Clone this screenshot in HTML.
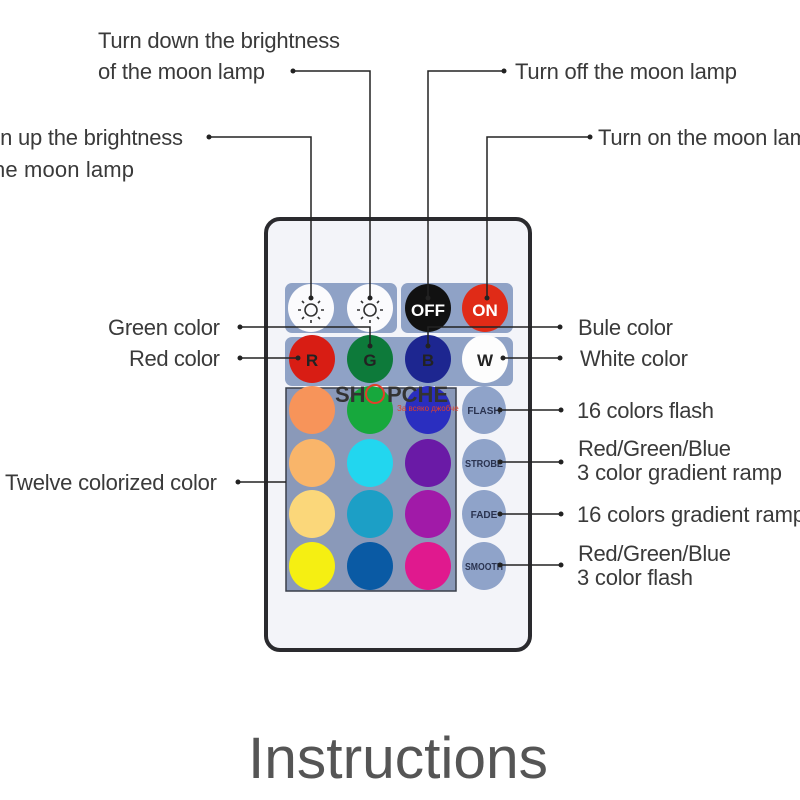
<!DOCTYPE html>
<html><head><meta charset="utf-8"><style>
html,body{margin:0;padding:0;background:#fff}
svg{display:block}
text{font-family:"Liberation Sans",Arial,sans-serif;fill:#3a3a3a}
</style></head><body>
<svg width="800" height="800" viewBox="0 0 800 800" xmlns="http://www.w3.org/2000/svg">
<!-- remote -->
<rect x="266" y="219" width="264" height="431" rx="14" fill="#f3f4f9" stroke="#2a2a2e" stroke-width="4"/>
<rect x="285" y="283" width="112" height="50" rx="7" fill="#8fa2c6"/>
<rect x="401" y="283" width="112" height="50" rx="7" fill="#8fa2c6"/>
<rect x="285" y="337" width="228" height="49" rx="7" fill="#8fa2c6"/>
<rect x="286" y="388" width="170" height="203" fill="#8a99b9" stroke="#3a3f4a" stroke-width="1.5"/>
<g>
<ellipse cx="311" cy="308" rx="23" ry="24" fill="#fbfbfd"/>
<ellipse cx="370" cy="308" rx="23" ry="24" fill="#fbfbfd"/>
<ellipse cx="428" cy="308" rx="23" ry="24" fill="#111"/>
<ellipse cx="485" cy="308" rx="23" ry="24" fill="#e02b17"/>
<ellipse cx="312" cy="359" rx="23" ry="24" fill="#d81d14"/>
<ellipse cx="370" cy="359" rx="23" ry="24" fill="#0d7a3a"/>
<ellipse cx="428" cy="359" rx="23" ry="24" fill="#1d2690"/>
<ellipse cx="485" cy="359" rx="23" ry="24" fill="#fdfdfd"/>
</g>
<g fill="none" stroke="#333" stroke-width="1.6">
<circle cx="311" cy="310" r="6"/><circle cx="370" cy="310" r="6"/>
<path d="M311 300v-3M311 320v3M301 310h-3M321 310h3M304 303l-2-2M318 303l2-2M304 317l-2 2M318 317l2 2"/>
<path d="M370 300v-3M370 320v3M360 310h-3M380 310h3M363 303l-2-2M377 303l2-2M363 317l-2 2M377 317l2 2"/>
</g>
<g font-weight="bold" text-anchor="middle">
<text x="428" y="316" font-size="17" style="fill:#fff">OFF</text>
<text x="485" y="316" font-size="17" style="fill:#fff">ON</text>
<text x="312" y="366" font-size="17" style="fill:#222">R</text>
<text x="370" y="366" font-size="17" style="fill:#222">G</text>
<text x="428" y="366" font-size="17" style="fill:#222">B</text>
<text x="485" y="366" font-size="17" style="fill:#222">W</text>
</g>
<g>
<ellipse cx="312" cy="410" rx="23" ry="24" fill="#f7945a"/>
<ellipse cx="370" cy="410" rx="23" ry="24" fill="#17a83d"/>
<ellipse cx="428" cy="410" rx="23" ry="24" fill="#2a2ec0"/>
<ellipse cx="312" cy="463" rx="23" ry="24" fill="#f9b56a"/>
<ellipse cx="370" cy="463" rx="23" ry="24" fill="#22d6ef"/>
<ellipse cx="428" cy="463" rx="23" ry="24" fill="#6a1aa6"/>
<ellipse cx="312" cy="514" rx="23" ry="24" fill="#fbd77a"/>
<ellipse cx="370" cy="514" rx="23" ry="24" fill="#1c9fc6"/>
<ellipse cx="428" cy="514" rx="23" ry="24" fill="#a11aa8"/>
<ellipse cx="312" cy="566" rx="23" ry="24" fill="#f5ef12"/>
<ellipse cx="370" cy="566" rx="23" ry="24" fill="#0a5aa4"/>
<ellipse cx="428" cy="566" rx="23" ry="24" fill="#e0198e"/>
<ellipse cx="484" cy="410" rx="22" ry="24" fill="#8fa3c9"/>
<ellipse cx="484" cy="463" rx="22" ry="24" fill="#8fa3c9"/>
<ellipse cx="484" cy="514" rx="22" ry="24" fill="#8fa3c9"/>
<ellipse cx="484" cy="566" rx="22" ry="24" fill="#8fa3c9"/>
</g>
<g font-size="10" text-anchor="middle" font-weight="bold">
<text x="484" y="414" style="fill:#2a3350">FLASH</text>
<text x="484" y="467" style="fill:#2a3350" textLength="38" lengthAdjust="spacingAndGlyphs">STROBE</text>
<text x="484" y="518" style="fill:#2a3350">FADE</text>
<text x="484" y="570" style="fill:#2a3350" textLength="38" lengthAdjust="spacingAndGlyphs">SMOOTH</text>
</g>
<!-- watermark -->
<text x="335" y="402" font-size="22" font-weight="bold" style="fill:#333">SH</text>
<circle cx="375" cy="394" r="9" fill="none" stroke="#e0402a" stroke-width="2"/>
<text x="387" y="402" font-size="22" font-weight="bold" style="fill:#333">PCHE</text>
<text x="397" y="411" font-size="8" style="fill:#e0402a">За всяко джобче</text>
<!-- lines -->
<g fill="none" stroke="#222" stroke-width="1.5">
<path d="M293 71H370V298"/>
<path d="M209 137H311V298"/>
<path d="M504 71H428V298"/>
<path d="M590 137H487V298"/>
<path d="M240 327H370V346"/>
<path d="M560 327H428V346"/>
<path d="M240 358H298"/>
<path d="M560 358H503"/>
<path d="M238 482H286"/>
<path d="M561 410H500"/>
<path d="M561 462H500"/>
<path d="M561 514H500"/>
<path d="M561 565H500"/>
</g>
<g fill="#222">
<circle cx="293" cy="71" r="2.5"/><circle cx="209" cy="137" r="2.5"/><circle cx="504" cy="71" r="2.5"/><circle cx="590" cy="137" r="2.5"/>
<circle cx="240" cy="327" r="2.5"/><circle cx="560" cy="327" r="2.5"/><circle cx="240" cy="358" r="2.5"/><circle cx="560" cy="358" r="2.5"/>
<circle cx="238" cy="482" r="2.5"/><circle cx="561" cy="410" r="2.5"/><circle cx="561" cy="462" r="2.5"/><circle cx="561" cy="514" r="2.5"/><circle cx="561" cy="565" r="2.5"/>
<circle cx="311" cy="298" r="2.5"/><circle cx="370" cy="298" r="2.5"/><circle cx="428" cy="298" r="2.5"/><circle cx="487" cy="298" r="2.5"/>
<circle cx="370" cy="346" r="2.5"/><circle cx="428" cy="346" r="2.5"/><circle cx="298" cy="358" r="2.5"/><circle cx="503" cy="358" r="2.5"/>
<circle cx="500" cy="410" r="2.5"/><circle cx="500" cy="462" r="2.5"/><circle cx="500" cy="514" r="2.5"/><circle cx="500" cy="565" r="2.5"/>
</g>
<g font-size="22" lengthAdjust="spacingAndGlyphs">
<text x="98" y="48" textLength="242">Turn down the brightness</text>
<text x="98" y="79" textLength="167">of the moon lamp</text>
<text x="515" y="79" textLength="222">Turn off the moon lamp</text>
<text x="-7" y="145" textLength="190">rn up the brightness</text>
<text x="-7" y="177" textLength="141">he moon lamp</text>
<text x="598" y="145" textLength="222">Turn on the moon lamp</text>
<text x="108" y="335" textLength="112">Green color</text>
<text x="129" y="366" textLength="91">Red color</text>
<text x="578" y="335" textLength="95">Bule color</text>
<text x="580" y="366" textLength="108">White color</text>
<text x="5" y="490" textLength="212">Twelve colorized color</text>
<text x="577" y="418" textLength="137">16 colors flash</text>
<text x="578" y="456" textLength="153">Red/Green/Blue</text>
<text x="577" y="480" textLength="205">3 color gradient ramp</text>
<text x="577" y="522" textLength="228">16 colors gradient ramp</text>
<text x="578" y="561" textLength="153">Red/Green/Blue</text>
<text x="577" y="585" textLength="116">3 color flash</text>
</g>
<text x="248" y="778" font-size="58" textLength="300" lengthAdjust="spacingAndGlyphs" style="fill:#555">Instructions</text>
</svg>
</body></html>
